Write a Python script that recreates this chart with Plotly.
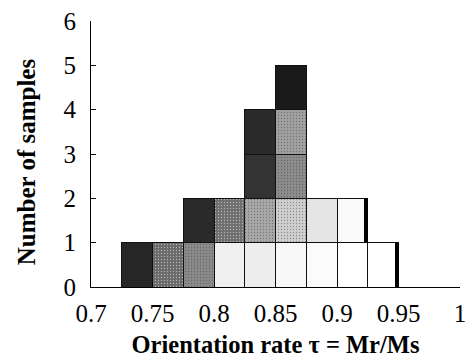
import plotly.graph_objects as go

# Histogram of orientation rate (bin width 0.025)
bin_left = [0.725, 0.75, 0.775, 0.8, 0.825, 0.85, 0.875, 0.9, 0.925]
counts = [1, 1, 2, 2, 4, 5, 2, 2, 1]
bin_width = 0.025

# grey level of each sample cell, bottom to top, per bin
cell_shades = [
    ["#262626"],
    ["#6a6a6a"],
    ["#8a8a8a", "#2a2a2a"],
    ["#f0f0f0", "#6e6e6e"],
    ["#ededed", "#a8a8a8", "#333333", "#2a2a2a"],
    ["#f8f8f8", "#cfcfcf", "#8c8c8c", "#a0a0a0", "#1a1a1a"],
    ["#fbfbfb", "#e4e4e4"],
    ["#ffffff", "#fafafa"],
    ["#ffffff"],
]
# bins whose top cell shows a dark shadow along its right edge
shadow_bins = [7, 8]

x_ticks = [0.7, 0.75, 0.8, 0.85, 0.9, 0.95, 1.0]
x_tick_text = ["0.7", "0.75", "0.8", "0.85", "0.9", "0.95", "1"]
y_ticks = [0, 1, 2, 3, 4, 5, 6]

centers = [b + bin_width / 2 for b in bin_left]


def grain(hex_color):
    """Speckle density: mid greys look grainy, near-white cells stay clean."""
    v = int(hex_color[1:3], 16)
    return 0.14 if 0x50 <= v <= 0xd8 else 0.0


fig = go.Figure()
for level in range(max(counts)):
    ys = [1 if c > level else 0 for c in counts]
    cols = [s[level] if level < len(s) else "#ffffff" for s in cell_shades]
    fig.add_trace(go.Bar(
        x=centers, y=ys, width=bin_width,
        marker=dict(
            color=cols, line=dict(color="#111111", width=1),
            pattern=dict(shape=[("." if grain(c) > 0 else "") for c in cols],
                         fillmode="overlay", fgcolor="#000000",
                         size=3, solidity=0.14),
        ),
        showlegend=False, hoverinfo="skip",
    ))

# dark shadow strip on the right of the last bars
strip = 0.0032
fig.add_trace(go.Bar(
    x=[bin_left[i] + bin_width - strip / 2 for i in shadow_bins],
    y=[1 for _ in shadow_bins],
    base=[counts[i] - 1 for i in shadow_bins],
    width=strip,
    marker=dict(color="#000000", line=dict(width=0)),
    showlegend=False, hoverinfo="skip",
))

serif = "Liberation Serif, Times New Roman, serif"
fig.update_layout(
    barmode="stack",
    width=474, height=362,
    margin=dict(l=91, r=8, t=16, b=75),
    paper_bgcolor="white", plot_bgcolor="white",
    font=dict(family=serif, color="black", size=25),
    xaxis=dict(
        range=[0.7, 1.0], tickvals=x_ticks, ticktext=x_tick_text,
        showline=True, linecolor="black", linewidth=1,
        ticks="inside", ticklen=5, tickcolor="black",
        ticklabelstandoff=4,
        showgrid=False, zeroline=False,
        title=dict(text="<b>Orientation rate τ = Mr/Ms</b>", font=dict(size=24.5), standoff=9),
    ),
    yaxis=dict(
        range=[0, 6], tickvals=y_ticks,
        showline=True, linecolor="black", linewidth=1,
        ticks="inside", ticklen=5, tickcolor="black",
        ticklabelstandoff=9,
        showgrid=False, zeroline=False,
    ),
    annotations=[dict(
        text="<b>Number of samples</b>", textangle=-90,
        xref="paper", yref="paper", x=-0.176, y=0.469,
        xanchor="center", yanchor="middle", showarrow=False,
        font=dict(size=25),
    )],
)

fig.write_html("out.html")
